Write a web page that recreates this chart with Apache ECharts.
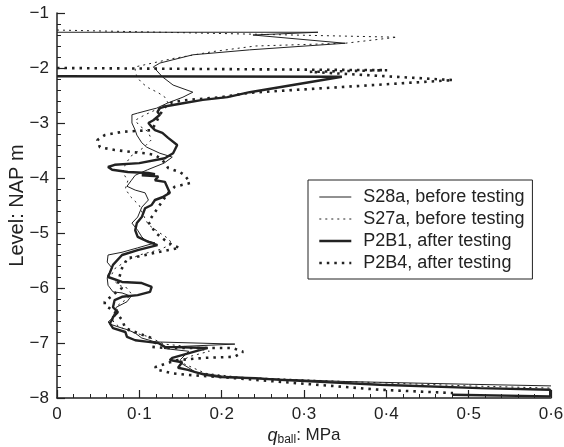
<!DOCTYPE html>
<html>
<head>
<meta charset="utf-8">
<script src="https://cdn.jsdelivr.net/npm/echarts@6/dist/echarts.min.js"></script>
<style>
html, body { margin: 0; padding: 0; background: #fff; }
#main { width: 564px; height: 447px; }
</style>
</head>
<body>
<div id="main"></div>
<script>
// [q_ball MPa, level NAP m]
var seriesNames = ['S28a, before testing', 'S27a, before testing', 'P2B1, after testing', 'P2B4, after testing'];

var s28a = [
    [0, -1.35], [0.317, -1.35], [0.238, -1.40], [0.35, -1.55], [0.234, -1.67], [0.165, -1.76],
    [0.125, -1.91], [0.117, -1.98], [0.128, -2.16], [0.141, -2.31], [0.165, -2.44], [0.153, -2.53],
    [0.134, -2.64], [0.121, -2.73], [0.113, -2.76], [0.098, -2.82], [0.091, -2.85], [0.091, -3.0],
    [0.095, -3.13], [0.097, -3.22], [0.103, -3.36], [0.109, -3.44], [0.125, -3.55], [0.14, -3.62],
    [0.13, -3.73], [0.11, -3.85], [0.095, -3.95], [0.09, -4.05], [0.085, -4.15], [0.095, -4.22],
    [0.107, -4.27], [0.111, -4.40], [0.103, -4.53], [0.098, -4.71], [0.091, -4.82], [0.098, -4.95],
    [0.103, -5.07], [0.107, -5.13], [0.119, -5.18], [0.098, -5.27], [0.079, -5.35], [0.062, -5.40],
    [0.061, -5.53], [0.067, -5.64], [0.062, -5.76], [0.061, -5.82], [0.062, -5.95], [0.068, -6.07],
    [0.079, -6.09], [0.09, -6.15], [0.085, -6.25], [0.072, -6.35], [0.07, -6.45], [0.067, -6.55],
    [0.062, -6.62], [0.067, -6.67], [0.079, -6.73], [0.086, -6.76], [0.095, -6.82], [0.103, -6.91],
    [0.119, -6.98], [0.216, -7.02], [0.14, -7.07], [0.13, -7.10], [0.16, -7.15], [0.15, -7.30],
    [0.152, -7.38], [0.16, -7.45], [0.168, -7.53], [0.2, -7.60], [0.241, -7.64], [0.35, -7.70],
    [0.5, -7.75], [0.6, -7.78]
];

var s27a = [
    [0, -1.31], [0.413, -1.44], [0.35, -1.55], [0.241, -1.60], [0.19, -1.70], [0.14, -1.83],
    [0.095, -1.98], [0.095, -2.04], [0.097, -2.16], [0.103, -2.27], [0.111, -2.36], [0.123, -2.45],
    [0.131, -2.53], [0.135, -2.64], [0.12, -2.76], [0.107, -2.85], [0.095, -2.95], [0.1, -3.05],
    [0.11, -3.15], [0.115, -3.30], [0.105, -3.45], [0.09, -3.60], [0.083, -3.75], [0.08, -3.90],
    [0.086, -4.05], [0.083, -4.20], [0.09, -4.35], [0.1, -4.50], [0.104, -4.65], [0.111, -4.85],
    [0.125, -5.0], [0.135, -5.10], [0.14, -5.20], [0.125, -5.30], [0.1, -5.40], [0.085, -5.50],
    [0.07, -5.65], [0.065, -5.80], [0.075, -5.95], [0.085, -6.0], [0.09, -6.10], [0.085, -6.20],
    [0.075, -6.30], [0.072, -6.45], [0.068, -6.60], [0.075, -6.70], [0.09, -6.80], [0.11, -6.88],
    [0.12, -6.95], [0.13, -7.02], [0.15, -7.05], [0.17, -7.10], [0.185, -7.15], [0.16, -7.25],
    [0.15, -7.35], [0.165, -7.45], [0.18, -7.55], [0.22, -7.62], [0.35, -7.70], [0.5, -7.78],
    [0.6, -7.82]
];

var p2b1 = [
    [0, -2.15], [0.346, -2.16], [0.234, -2.44], [0.207, -2.53], [0.177, -2.58], [0.153, -2.64],
    [0.134, -2.69], [0.125, -2.73], [0.122, -2.80], [0.125, -2.85], [0.117, -2.95], [0.111, -3.0],
    [0.115, -3.07], [0.119, -3.13], [0.128, -3.18], [0.135, -3.27], [0.146, -3.40], [0.143, -3.49],
    [0.141, -3.55], [0.131, -3.64], [0.1, -3.73], [0.07, -3.76], [0.062, -3.80], [0.067, -3.85],
    [0.086, -3.89], [0.111, -3.91], [0.119, -3.93], [0.103, -3.95], [0.123, -3.97], [0.119, -4.04],
    [0.131, -4.07], [0.137, -4.27], [0.128, -4.35], [0.119, -4.40], [0.115, -4.49], [0.107, -4.55],
    [0.103, -4.71], [0.097, -4.82], [0.095, -4.95], [0.098, -5.07], [0.111, -5.16], [0.122, -5.22],
    [0.098, -5.31], [0.079, -5.40], [0.068, -5.58], [0.064, -5.73], [0.062, -5.80], [0.079, -5.89],
    [0.103, -5.91], [0.115, -5.98], [0.113, -6.07], [0.098, -6.13], [0.079, -6.16], [0.07, -6.22],
    [0.068, -6.35], [0.074, -6.44], [0.068, -6.53], [0.067, -6.58], [0.064, -6.64], [0.068, -6.73],
    [0.083, -6.80], [0.085, -6.89], [0.095, -6.95], [0.111, -6.98], [0.123, -7.0], [0.131, -7.07],
    [0.183, -7.09], [0.14, -7.27], [0.137, -7.31], [0.152, -7.35], [0.147, -7.45], [0.159, -7.49],
    [0.168, -7.53], [0.18, -7.58], [0.2, -7.62], [0.241, -7.64], [0.271, -7.67], [0.392, -7.76],
    [0.514, -7.82], [0.599, -7.85], [0.599, -7.97], [0.48, -7.94]
];

var p2b4 = [
    [0, -2.0], [0.401, -2.04], [0.307, -2.07], [0.481, -2.22], [0.234, -2.45], [0.2, -2.53],
    [0.159, -2.58], [0.14, -2.62], [0.131, -2.71], [0.125, -2.85], [0.12, -3.0], [0.115, -3.13],
    [0.079, -3.16], [0.058, -3.22], [0.049, -3.31], [0.052, -3.44], [0.07, -3.49], [0.092, -3.53],
    [0.107, -3.55], [0.119, -3.58], [0.128, -3.67], [0.135, -3.82], [0.149, -3.89], [0.155, -3.95],
    [0.162, -4.09], [0.143, -4.16], [0.135, -4.27], [0.123, -4.53], [0.115, -4.71], [0.111, -4.80],
    [0.12, -5.0], [0.131, -5.13], [0.14, -5.22], [0.149, -5.27], [0.119, -5.36], [0.095, -5.44],
    [0.086, -5.45], [0.079, -5.64], [0.074, -5.89], [0.079, -6.0], [0.07, -6.10], [0.058, -6.25],
    [0.058, -6.31], [0.067, -6.40], [0.074, -6.49], [0.079, -6.58], [0.083, -6.73], [0.098, -6.82],
    [0.115, -6.91], [0.119, -7.0], [0.115, -7.07], [0.131, -7.09], [0.159, -7.09], [0.213, -7.09],
    [0.226, -7.16], [0.216, -7.25], [0.18, -7.27], [0.147, -7.31], [0.135, -7.36], [0.119, -7.44],
    [0.123, -7.49], [0.14, -7.55], [0.159, -7.58], [0.2, -7.62], [0.241, -7.67], [0.392, -7.85],
    [0.481, -7.91]
];

var fontFamily = '"Liberation Sans", Arial, sans-serif';
var ink = '#222';
var widths = [1, 1, 2.4, 2.6];
var dashes = ['solid', [2, 4], 'solid', [2.5, 5]];

function fmtX(v) {
    if (v === 0) return '0';
    return v.toFixed(1).replace('.', '\u00b7');
}

function fmtY(v) {
    return v < 0 ? '\u2212' + Math.abs(v) : String(v);
}

function makeSeries(i, data) {
    return {
        name: seriesNames[i],
        type: 'line',
        data: data,
        symbol: 'none',
        smooth: false,
        clip: true,
        color: ink,
        lineStyle: { color: ink, width: widths[i], type: dashes[i], cap: 'butt' }
    };
}

function legendItems() {
    var res = [];
    for (var i = 0; i < seriesNames.length; i++) {
        res.push({
            name: seriesNames[i],
            itemStyle: { opacity: 0 },
            lineStyle: { color: ink, width: widths[i], type: dashes[i] }
        });
    }
    return res;
}

var chart = echarts.init(document.getElementById('main'));

var option = {
    backgroundColor: '#fff',
    animation: false,
    grid: { left: 57, right: 13, top: 13, bottom: 49, outerBoundsMode: 'none' },
    legend: {
        orient: 'vertical',
        left: 308,
        top: 180,
        data: legendItems(),
        itemWidth: 32,
        itemHeight: 14,
        itemGap: 4,
        padding: [8, 8, 7, 10],
        borderColor: ink,
        borderWidth: 1,
        textStyle: { fontFamily: fontFamily, fontSize: 18, color: ink, padding: [0, 0, 0, 7] }
    },
    xAxis: {
        type: 'value',
        min: 0,
        max: 0.6,
        interval: 0.1,
        name: '{i|q}{sub|ball}: MPa',
        nameLocation: 'middle',
        nameGap: 27,
        nameMoveOverlap: false,
        nameTextStyle: {
            fontFamily: fontFamily,
            fontSize: 17,
            color: ink,
            rich: {
                i: { fontFamily: fontFamily, fontSize: 18, fontStyle: 'italic', color: ink },
                sub: { fontFamily: fontFamily, fontSize: 12, color: ink, padding: [9, 0, 0, 0] }
            }
        },
        axisLine: { lineStyle: { color: ink, width: 1.5 } },
        axisTick: { inside: true, length: 8, lineStyle: { color: ink, width: 1.2 } },
        minorTick: { show: true, splitNumber: 5, length: 4, lineStyle: { color: ink, width: 1 } },
        splitLine: { show: false },
        axisLabel: { formatter: fmtX, fontFamily: fontFamily, fontSize: 17, color: ink, margin: 8 }
    },
    yAxis: {
        type: 'value',
        min: -8,
        max: -1,
        interval: 1,
        name: 'Level: NAP m',
        nameLocation: 'middle',
        nameGap: 30,
        nameMoveOverlap: false,
        nameTextStyle: { fontFamily: fontFamily, fontSize: 20, color: ink },
        axisLine: { lineStyle: { color: ink, width: 1.5 } },
        axisTick: { inside: true, length: 8, lineStyle: { color: ink, width: 1.2 } },
        minorTick: { show: true, splitNumber: 5, length: 4, lineStyle: { color: ink, width: 1 } },
        splitLine: { show: false },
        axisLabel: { formatter: fmtY, fontFamily: fontFamily, fontSize: 17, color: ink, margin: 8 }
    },
    series: [
        makeSeries(0, s28a),
        makeSeries(1, s27a),
        makeSeries(2, p2b1),
        makeSeries(3, p2b4)
    ]
};

chart.setOption(option);
</script>
</body>
</html>
